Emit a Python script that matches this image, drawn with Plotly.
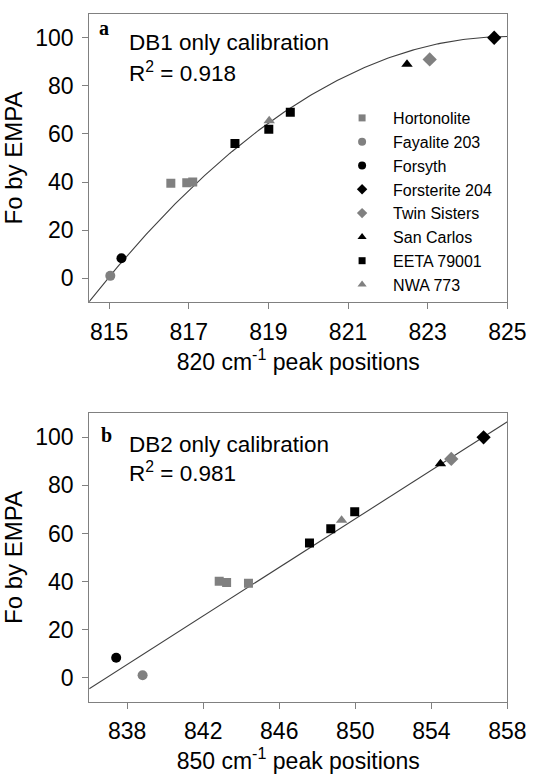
import numpy as np
import plotly.graph_objects as go

# ---------------- data ----------------
# Panel a: 820 cm-1 peak positions
hort_a_x = [816.55, 816.95, 817.10]
hort_a_y = [39.5, 39.7, 40.0]
fay_a_x = [815.03]
fay_a_y = [1.0]
forsyth_a_x = [815.31]
forsyth_a_y = [8.3]
forst_a_x = [824.67]
forst_a_y = [100.0]
twin_a_x = [823.05]
twin_a_y = [91.0]
sancarlos_a_x = [822.48]
sancarlos_a_y = [89.0]
eeta_a_x = [818.16, 819.01, 819.55]
eeta_a_y = [56.0, 62.0, 69.0]
nwa_a_x = [819.02]
nwa_a_y = [65.5]

# Panel b: 850 cm-1 peak positions
hort_b_x = [842.84, 843.23, 844.38]
hort_b_y = [40.1, 39.6, 39.3]
fay_b_x = [838.81]
fay_b_y = [1.0]
forsyth_b_x = [837.42]
forsyth_b_y = [8.3]
forst_b_x = [856.75]
forst_b_y = [100.0]
twin_b_x = [855.05]
twin_b_y = [91.0]
sancarlos_b_x = [854.48]
sancarlos_b_y = [89.0]
eeta_b_x = [847.59, 848.71, 849.97]
eeta_b_y = [56.0, 62.0, 69.0]
nwa_b_x = [849.28]
nwa_b_y = [65.5]

# calibration curves
fit_a_peak_x = 825.0
fit_a_peak_y = 100.5
fit_a_curv = 1.0
fit_b_x0 = 836.0
fit_b_y0 = -4.6
fit_b_slope = 5.05

xticks_a = [815, 817, 819, 821, 823, 825]
xticks_b = [838, 842, 846, 850, 854, 858]
yticks = [0, 20, 40, 60, 80, 100]

names = ["Hortonolite", "Fayalite 203", "Forsyth", "Forsterite 204",
         "Twin Sisters", "San Carlos", "EETA 79001", "NWA 773"]

# ---------------- style ----------------
GRAY = "#808080"
BLACK = "#000000"
FONT = "Liberation Sans, Arial, sans-serif"
SERIF = "Liberation Serif, Times New Roman, serif"
W, H = 547, 776

styles = {
    "Hortonolite": ("square", GRAY, 9),
    "Fayalite 203": ("circle", GRAY, 10),
    "Forsyth": ("circle", BLACK, 10),
    "Forsterite 204": ("diamond", BLACK, 11),
    "Twin Sisters": ("diamond", GRAY, 11),
    "San Carlos": ("triangle-up", BLACK, 10),
    "EETA 79001": ("square", BLACK, 9),
    "NWA 773": ("triangle-up", GRAY, 10),
}
legend_size = {"square": 7, "circle": 8, "diamond": 8, "triangle-up": 8}

series_a = [(hort_a_x, hort_a_y), (fay_a_x, fay_a_y), (forsyth_a_x, forsyth_a_y),
            (forst_a_x, forst_a_y), (twin_a_x, twin_a_y), (sancarlos_a_x, sancarlos_a_y),
            (eeta_a_x, eeta_a_y), (nwa_a_x, nwa_a_y)]
series_b = [(hort_b_x, hort_b_y), (fay_b_x, fay_b_y), (forsyth_b_x, forsyth_b_y),
            (forst_b_x, forst_b_y), (twin_b_x, twin_b_y), (sancarlos_b_x, sancarlos_b_y),
            (eeta_b_x, eeta_b_y), (nwa_b_x, nwa_b_y)]

fig = go.Figure()

xa_range = [814.5, 825]
xb_range = [836, 858]

# fit curves
xa_line = np.linspace(xa_range[0], xa_range[1], 200)
ya_line = fit_a_peak_y - fit_a_curv * (xa_line - fit_a_peak_x) ** 2
fig.add_trace(go.Scatter(x=xa_line, y=ya_line, mode="lines",
                         line=dict(color="#404040", width=1.1),
                         showlegend=False, xaxis="x", yaxis="y", hoverinfo="skip"))
xb_line = np.array(xb_range, dtype=float)
yb_line = fit_b_y0 + fit_b_slope * (xb_line - fit_b_x0)
fig.add_trace(go.Scatter(x=xb_line, y=yb_line, mode="lines",
                         line=dict(color="#404040", width=1.1),
                         showlegend=False, xaxis="x2", yaxis="y2", hoverinfo="skip"))

for name, (xs, ys) in zip(names, series_a):
    sym, col, sz = styles[name]
    fig.add_trace(go.Scatter(x=xs, y=ys, mode="markers", name=name,
                             marker=dict(symbol=sym, color=col, size=sz, line=dict(width=0)),
                             showlegend=False, xaxis="x", yaxis="y"))
for name, (xs, ys) in zip(names, series_b):
    sym, col, sz = styles[name]
    fig.add_trace(go.Scatter(x=xs, y=ys, mode="markers", name=name,
                             marker=dict(symbol=sym, color=col, size=sz, line=dict(width=0)),
                             showlegend=False, xaxis="x2", yaxis="y2"))
# legend entries
for name in names:
    sym, col, sz = styles[name]
    fig.add_trace(go.Scatter(x=[None], y=[None], mode="markers", name=name,
                             marker=dict(symbol=sym, color=col, size=legend_size[sym], line=dict(width=0)),
                             showlegend=True, xaxis="x", yaxis="y"))


def px_x(p):
    return p / W


def px_y(p):
    return 1 - p / H


axis_common = dict(showline=True, linecolor=GRAY, linewidth=1, mirror=True,
                   ticks="outside", ticklen=6, tickcolor=GRAY, tickwidth=1,
                   showgrid=False, zeroline=False,
                   tickfont=dict(family=FONT, size=23, color="black"))

xtitle_font = dict(family=FONT, size=23)
ytitle_font = dict(family=FONT, size=24)

fig.update_layout(
    width=W, height=H,
    margin=dict(l=0, r=0, t=0, b=0),
    paper_bgcolor="white", plot_bgcolor="white",
    font=dict(family=FONT, color="black"),
    xaxis=dict(domain=[px_x(92.4), px_x(525.6)], range=xa_range, tickvals=xticks_a,
               anchor="y", ticklabelstandoff=3,
               title=dict(text="820 cm<sup>-1</sup> peak positions",
                          font=xtitle_font, standoff=6),
               **axis_common),
    yaxis=dict(domain=[px_y(302.3), px_y(13.7)], range=[-10, 110], tickvals=yticks,
               anchor="x", ticklabelstandoff=4,
               title=dict(text="Fo by EMPA", font=ytitle_font, standoff=5),
               **axis_common),
    xaxis2=dict(domain=[px_x(92.4), px_x(525.6)], range=xb_range, tickvals=xticks_b,
                anchor="y2", ticklabelstandoff=3,
                title=dict(text="850 cm<sup>-1</sup> peak positions",
                           font=xtitle_font, standoff=6),
                **axis_common),
    yaxis2=dict(domain=[px_y(701.7), px_y(413.3)], range=[-10, 110], tickvals=yticks,
                anchor="x2", ticklabelstandoff=4,
                title=dict(text="Fo by EMPA", font=ytitle_font, standoff=5),
                **axis_common),
    legend=dict(x=px_x(343), y=px_y(101), xanchor="left", yanchor="top",
                bgcolor="rgba(0,0,0,0)", borderwidth=0,
                font=dict(family=FONT, size=16, color="black"),
                itemwidth=52, tracegroupgap=0),
    showlegend=True,
)

annos = [
    ("<b>a</b>", 100, 28.5, SERIF, 20),
    ("DB1 only calibration", 132, 42.7, FONT, 22.5),
    ("R<sup>2</sup> = 0.918", 132, 72, FONT, 22.5),
    ("<b>b</b>", 103, 435, SERIF, 20),
    ("DB2 only calibration", 132, 445, FONT, 22.5),
    ("R<sup>2</sup> = 0.981", 132, 472, FONT, 22.5),
]
for text, x, y, fam, sz in annos:
    fig.add_annotation(text=text, x=px_x(x), y=px_y(y), xref="paper", yref="paper",
                       xanchor="left", yanchor="middle", showarrow=False,
                       font=dict(family=fam, size=sz, color="black"))

fig.write_html("out.html")
